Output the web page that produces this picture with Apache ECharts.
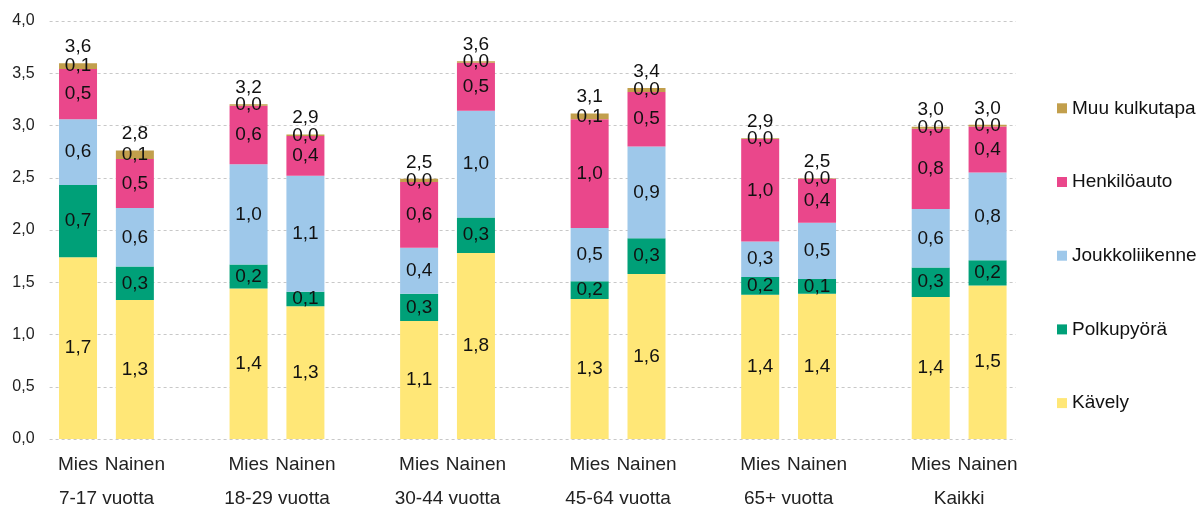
<!DOCTYPE html>
<html>
<head>
<meta charset="utf-8">
<script src="https://cdn.jsdelivr.net/npm/echarts@6/dist/echarts.min.js"></script>
<style>
  html, body { margin: 0; padding: 0; background: #fff; }
  #main { width: 1203px; height: 508px; }
</style>
</head>
<body>
<div id="main"></div>
<script>
// ikäryhmät ja sukupuolet
const groups = ['7-17 vuotta', '18-29 vuotta', '30-44 vuotta', '45-64 vuotta', '65+ vuotta', 'Kaikki'];
const sexes = ['Mies', 'Nainen'];

// matkoja / hlö / vrk, järjestys: ryhmä x (Mies, Nainen)
const kavely      = [1.74, 1.33, 1.44, 1.27, 1.13, 1.78, 1.34, 1.58, 1.38, 1.39, 1.36, 1.47];
const polkupyora  = [0.69, 0.32, 0.23, 0.14, 0.26, 0.34, 0.17, 0.34, 0.17, 0.14, 0.28, 0.24];
const joukko      = [0.63, 0.56, 0.96, 1.11, 0.44, 1.02, 0.51, 0.88, 0.34, 0.54, 0.56, 0.84];
const henkiloauto = [0.48, 0.47, 0.56, 0.38, 0.63, 0.46, 1.04, 0.52, 0.98, 0.42, 0.77, 0.44];
const muu         = [0.055, 0.08, 0.013, 0.013, 0.03, 0.016, 0.055, 0.038, 0.007, 0.006, 0.019, 0.016];

const yTicks = [0, 0.5, 1, 1.5, 2, 2.5, 3, 3.5, 4];

const FONT = '"Liberation Sans", Arial, sans-serif';
const fmt = v => Number(v).toFixed(1).replace('.', ',');

// lisätään tyhjä väli ryhmien väliin
function withGaps(arr, gap) {
  const out = [];
  groups.forEach((g, i) => {
    out.push(arr[2 * i], arr[2 * i + 1]);
    if (i < groups.length - 1) out.push(gap);
  });
  return out;
}

const categories = withGaps(groups.flatMap(() => sexes), '');
const totals = kavely.map((v, i) => v + polkupyora[i] + joukko[i] + henkiloauto[i] + muu[i]);

const chart = echarts.init(document.getElementById('main'));

const segLabel = {
  show: true,
  position: 'inside',
  color: '#111',
  fontSize: 19,
  fontFamily: FONT,
  formatter: p => fmt(p.value)
};

function seg(name, data, color) {
  return {
    name: name,
    type: 'bar',
    stack: 'all',
    barWidth: 38,
    data: withGaps(data, '-'),
    itemStyle: { color: color },
    label: segLabel
  };
}

const option = {
  animation: false,
  textStyle: { fontFamily: FONT },
  grid: { left: 49.6, right: 187, top: 21, bottom: 66, containLabel: false },
  legend: {
    orient: 'vertical',
    left: 1057,
    top: 98.8,
    padding: 0,
    itemWidth: 10,
    itemHeight: 10,
    itemGap: 54.7,
    icon: 'rect',
    data: ['Muu kulkutapa', 'Henkilöauto', 'Joukkoliikenne', 'Polkupyörä', 'Kävely'],
    textStyle: { fontSize: 19, lineHeight: 19, color: '#111', fontFamily: FONT }
  },
  xAxis: [
    {
      type: 'category',
      data: categories,
      axisLine: { show: false },
      axisTick: { show: false },
      axisLabel: { interval: 0, margin: 16, fontSize: 19, color: '#222', fontFamily: FONT }
    },
    {
      type: 'value',
      min: 0,
      max: categories.length,
      position: 'bottom',
      axisLine: { show: false },
      axisTick: { show: false },
      splitLine: { show: false },
      axisLabel: {
        customValues: groups.map((g, i) => 3 * i + 1),
        margin: 50,
        fontSize: 19,
        color: '#222',
        fontFamily: FONT,
        formatter: v => groups[(v - 1) / 3] || ''
      }
    }
  ],
  yAxis: {
    type: 'value',
    min: yTicks[0],
    max: yTicks[yTicks.length - 1],
    interval: 0.5,
    axisLine: { show: false },
    axisTick: { show: false },
    splitLine: { lineStyle: { type: [3, 3], color: '#c8c8c8', width: 1 } },
    axisLabel: { margin: 15, fontSize: 16, color: '#222', fontFamily: FONT, formatter: fmt }
  },
  series: [
    seg('Kävely', kavely, '#FFE777'),
    seg('Polkupyörä', polkupyora, '#00A078'),
    seg('Joukkoliikenne', joukko, '#9EC8EA'),
    seg('Henkilöauto', henkiloauto, '#EA478B'),
    seg('Muu kulkutapa', muu, '#C29F4C'),
    {
      name: 'Yhteensä',
      type: 'bar',
      stack: 'all',
      barWidth: 38,
      data: withGaps(totals.map(() => 0), '-'),
      itemStyle: { color: 'rgba(0,0,0,0)' },
      label: {
        show: true,
        position: 'top',
        distance: 7,
        color: '#111',
        fontSize: 19,
        fontFamily: FONT,
        formatter: p => {
          const idx = categories.slice(0, p.dataIndex).filter(c => c !== '').length;
          return fmt(totals[idx]);
        }
      }
    }
  ]
};

chart.setOption(option);
window.addEventListener('resize', () => chart.resize());
</script>
</body>
</html>
